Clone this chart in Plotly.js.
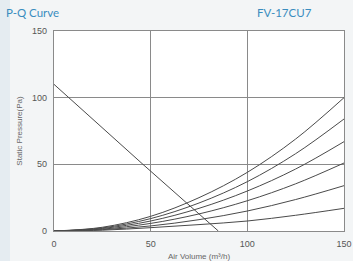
<!DOCTYPE html>
<html><head><meta charset="utf-8">
<script src="https://cdn.plot.ly/plotly-3.0.1.min.js"></script>
<style>html,body{margin:0;padding:0;background:#f3f5f6;}#c{width:353px;height:261px;}</style>
</head><body><div id="c"></div>
<script>
// Air volume sample points (m³/h)
const airVolume = [0, 25, 50, 75, 100, 125, 150];
// System resistance curves (Pa)
const res1 = [0, 2.8, 11, 25, 44, 69, 100];
const res2 = [0, 2.3, 9.3, 21, 37, 58, 84];
const res3 = [0, 1.9, 7.5, 17, 30, 46.5, 67];
const res4 = [0, 1.4, 5.7, 12.8, 22.7, 35.4, 51];
const res5 = [0, 1.0, 3.8, 8.5, 15, 23.6, 34];
const res6 = [0, 0.6, 2.5, 4.8, 7.5, 11.8, 17];
// Fan P-Q curve
const pqVolume = [0, 46, 85];
const pqPressure = [110, 50, 0];
const tickVals = [0, 50, 100, 150];

const lineCol = '#4a4a4a';
const traces = [res1, res2, res3, res4, res5, res6].map(r => ({
  x: airVolume, y: r, mode: 'lines', line: {color: lineCol, width: 1, shape: 'spline'}, hoverinfo: 'skip'
}));
traces.push({x: pqVolume, y: pqPressure, mode: 'lines', line: {color: lineCol, width: 1}, hoverinfo: 'skip'});

const layout = {
  width: 353, height: 261,
  margin: {l: 54, r: 9, t: 31, b: 30},
  paper_bgcolor: '#f3f5f6', plot_bgcolor: '#ffffff',
  showlegend: false,
  font: {family: 'Liberation Sans, Arial, sans-serif', color: '#555', size: 8},
  xaxis: {range: [0, 150], tickvals: tickVals, ticks: '', showgrid: true, gridcolor: '#8a8a8a', gridwidth: 1.2,
    zeroline: false, showline: true, linecolor: '#8a8a8a', linewidth: 1.2, mirror: true,
    tickfont: {size: 9, color: '#555'}, ticklabelstandoff: 4,
    title: {text: 'Air Volume (m³/h)', font: {size: 8, color: '#666'}, standoff: -2}},
  yaxis: {range: [0, 150], tickvals: tickVals, ticks: '', showgrid: true, gridcolor: '#8a8a8a', gridwidth: 1.2,
    zeroline: false, showline: true, linecolor: '#8a8a8a', linewidth: 1.2, mirror: true,
    tickfont: {size: 9, color: '#555'}, ticklabelstandoff: 4,
    title: {text: 'Static Pressure(Pa)', font: {size: 8, color: '#666'}, standoff: 8}},
  shapes: [
    {type: 'rect', xref: 'paper', yref: 'paper', x0: -54/290, x1: -44/290, y0: -30/200, y1: 261/200 , fillcolor: '#e5ecf1', line: {width: 0}, layer: 'below'}
  ],
  annotations: [
    {text: 'P-Q Curve', xref: 'paper', yref: 'paper', x: -50/290, y: 1 + 18/200, xanchor: 'left', yanchor: 'middle', showarrow: false,
      font: {size: 11.5, color: '#3a8dbf', family: 'Lato, Liberation Sans, sans-serif'}},
    {text: 'FV-17CU7', xref: 'paper', yref: 'paper', x: 201/290, y: 1 + 18/200, xanchor: 'left', yanchor: 'middle', showarrow: false,
      font: {size: 11.5, color: '#3a8dbf', family: 'Lato, Liberation Sans, sans-serif'}}
  ]
};
Plotly.newPlot('c', traces, layout, {staticPlot: true, displayModeBar: false});
</script></body></html>
